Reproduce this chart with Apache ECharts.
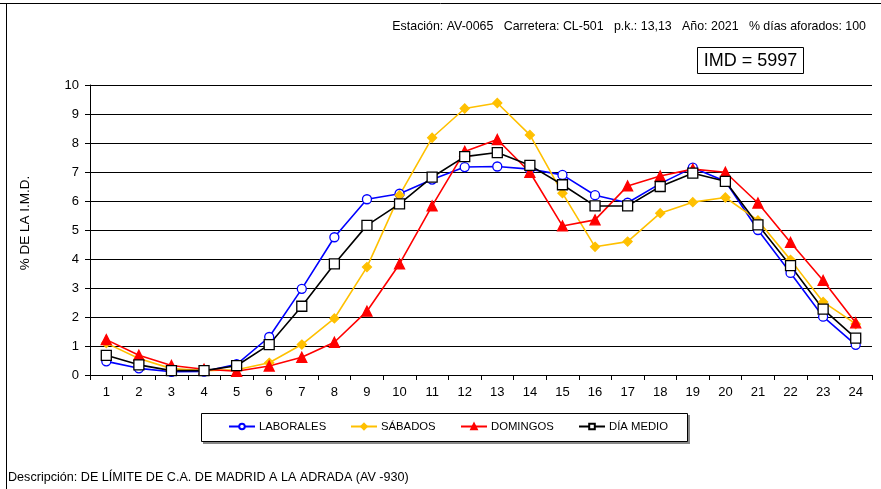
<!DOCTYPE html>
<html><head><meta charset="utf-8">
<script src="https://cdn.jsdelivr.net/npm/echarts@6/dist/echarts.min.js"></script>
<style>html,body{margin:0;padding:0;background:#fff}#c{width:881px;height:489px}</style>
</head><body><div id="c"></div>
<script>
const hours = ['1','2','3','4','5','6','7','8','9','10','11','12','13','14','15','16','17','18','19','20','21','22','23','24'];
const laborales = [0.47,0.23,0.11,0.12,0.37,1.31,2.97,4.75,6.06,6.25,6.74,7.17,7.19,7.1,6.9,6.2,5.94,6.6,7.15,6.68,5.0,3.52,2.01,1.04];
const sabados = [1.1,0.57,0.22,0.15,0.18,0.42,1.05,1.95,3.72,6.2,8.18,9.19,9.38,8.28,6.27,4.42,4.6,5.58,5.96,6.12,5.33,3.97,2.52,1.76];
const domingos = [1.22,0.68,0.33,0.2,0.13,0.31,0.61,1.13,2.2,3.83,5.83,7.71,8.12,6.99,5.14,5.35,6.52,6.86,7.1,6.99,5.93,4.57,3.26,1.8];
const diaMedio = [0.68,0.35,0.15,0.15,0.32,1.05,2.37,3.83,5.16,5.9,6.82,7.53,7.67,7.23,6.56,5.83,5.83,6.5,6.96,6.68,5.18,3.77,2.27,1.27];
const yTicks = {min:0, max:10, interval:1};
const headerText = 'Estación: AV-0065   Carretera: CL-501   p.k.: 13,13   Año: 2021   % días aforados: 100';
const imdText = 'IMD = 5997';
const descText = 'Descripción: DE LÍMITE DE C.A. DE MADRID A LA ADRADA (AV -930)';
const yName = '% DE LA I.M.D.';

const F = 'Liberation Sans, Arial, sans-serif';
const chart = echarts.init(document.getElementById('c'), null, {renderer:'canvas'});
function legendAt(left, name){
  return {show:true, left:left, top:421, data:[name], itemWidth:26, itemHeight:7, itemGap:0,
    padding:0, textStyle:{fontFamily:F, fontSize:11.3, color:'#000', padding:[0,0,0,-1]}, selectedMode:false};
}
const mk = (name, data, color, symbol, size, fill) => ({
  name, type:'line', data, color,
  symbol, symbolSize:size, showSymbol:true,
  lineStyle:{color, width:1.6},
  itemStyle:{color:fill, borderColor:color, borderWidth:1.3},
  emphasis:{disabled:true}, animation:false, z: 2
});
chart.setOption({
  animation:false,
  backgroundColor:'#fff',
  grid:{left:90, right:9, top:85, bottom:114, containLabel:false},
  xAxis:{type:'category', data:hours, boundaryGap:true,
    axisLine:{lineStyle:{color:'#000', width:1}},
    axisTick:{show:true, length:5, lineStyle:{color:'#000'}, alignWithLabel:false},
    axisLabel:{fontFamily:F, fontSize:13, color:'#000', margin:11},
    splitLine:{show:false}},
  yAxis:{type:'value', min:yTicks.min, max:yTicks.max, interval:yTicks.interval,
    axisLine:{show:true, lineStyle:{color:'#000', width:1}},
    axisTick:{show:true, inside:false, length:5, lineStyle:{color:'#000'}},
    axisLabel:{fontFamily:F, fontSize:13, color:'#000', margin:11},
    splitLine:{show:true, lineStyle:{color:'#000', width:1}}},
  legend:[
    legendAt(228,'LABORALES'),
    legendAt(350,'SÁBADOS'),
    legendAt(460,'DOMINGOS'),
    legendAt(578,'DÍA MEDIO')
  ],
  series:[
    mk('LABORALES', laborales, '#0000ff', 'circle', 9, '#fff'),
    mk('SÁBADOS', sabados, '#ffc000', 'diamond', 9, '#ffc000'),
    mk('DOMINGOS', domingos, '#ff0000', 'triangle', 10, '#ff0000'),
    mk('DÍA MEDIO', diaMedio, '#000000', 'rect', 10, '#fff')
  ],
  graphic:[
    {type:'line', shape:{x1:0,y1:3.5,x2:881,y2:3.5}, style:{stroke:'#000', lineWidth:1}},
    {type:'line', shape:{x1:6.5,y1:3,x2:6.5,y2:489}, style:{stroke:'#000', lineWidth:1}},
    {type:'text', x:866, y:27, style:{text:headerText, fontFamily:F, fontSize:12.4, fill:'#000', align:'right', verticalAlign:'middle'}},
    {type:'rect', shape:{x:697.5,y:47.5,width:106,height:26}, style:{fill:'#fff', stroke:'#000', lineWidth:1}},
    {type:'text', x:750.5, y:61, style:{text:imdText, fontFamily:F, fontSize:18, fill:'#000', align:'center', verticalAlign:'middle'}},
    {type:'text', x:25, y:223, rotation:Math.PI/2, style:{text:yName, fontFamily:F, fontSize:13.5, fill:'#000', align:'center', verticalAlign:'middle'}},
    {type:'rect', shape:{x:203,y:415,width:487,height:29}, style:{fill:'#888', stroke:null}, z:-2},
    {type:'rect', shape:{x:201.5,y:413.5,width:486,height:28}, style:{fill:'#fff', stroke:'#000', lineWidth:1}, z:-1},
    {type:'text', x:8, y:478, style:{text:descText, fontFamily:F, fontSize:12.6, fill:'#000', align:'left', verticalAlign:'middle'}}
  ]
});
</script></body></html>
